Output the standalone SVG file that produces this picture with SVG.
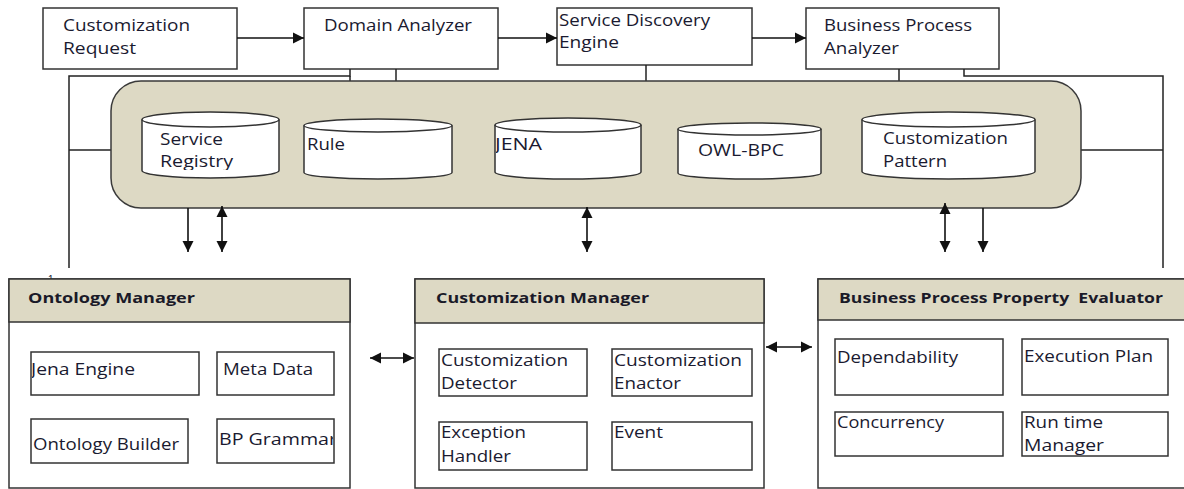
<svg xmlns="http://www.w3.org/2000/svg" width="1184" height="489" viewBox="0 0 1184 489">
<defs>
<style>
.box{fill:#fff;stroke:#333;stroke-width:1.5}
.hdr{fill:#DDD9C4;stroke:#333;stroke-width:1.5}
.cyl{fill:#fff;stroke:#333;stroke-width:1.5}
.t{font-family:"Open Sans","Liberation Sans",sans-serif;font-size:16px;fill:#1a1a30;white-space:pre}
.b{font-family:"Open Sans","Liberation Sans",sans-serif;font-size:14.5px;font-weight:bold;fill:#1a1a28;white-space:pre}
.ln{fill:none;stroke:#222;stroke-width:1.5}
.ar{fill:none;stroke:#111;stroke-width:1.6}
</style>
<marker id="ah" viewBox="0 0 10 10" refX="10" refY="5" markerWidth="11" markerHeight="12" markerUnits="userSpaceOnUse" orient="auto-start-reverse">
<path d="M0,0 L10,5 L0,10 z" fill="#111"/>
</marker>
<clipPath id="cReg"><rect x="140" y="120" width="140" height="50"/></clipPath>
<clipPath id="cJena"><rect x="496" y="125" width="140" height="40"/></clipPath>
<clipPath id="cJE"><rect x="32" y="352" width="160" height="40"/></clipPath>
<clipPath id="cBP"><rect x="218" y="420" width="115" height="40"/></clipPath>
</defs>

<g id="customization-request">
<rect class="box" x="43" y="8" width="194" height="61"/>
<text class="t" x="63" y="31" textLength="127" lengthAdjust="spacingAndGlyphs">Customization</text>
<text class="t" x="63" y="54" textLength="73" lengthAdjust="spacingAndGlyphs">Request</text>
</g>
<g id="domain-analyzer">
<rect class="box" x="304" y="8" width="194" height="61"/>
<text class="t" x="324" y="31" textLength="148" lengthAdjust="spacingAndGlyphs">Domain Analyzer</text>
</g>
<g id="service-discovery-engine">
<rect class="box" x="557" y="8" width="195" height="57"/>
<text class="t" x="559" y="26" textLength="151" lengthAdjust="spacingAndGlyphs">Service Discovery</text>
<text class="t" x="559" y="48" textLength="60" lengthAdjust="spacingAndGlyphs">Engine</text>
</g>
<g id="business-process-analyzer">
<rect class="box" x="806" y="8" width="193" height="61"/>
<text class="t" x="824" y="31" textLength="148" lengthAdjust="spacingAndGlyphs">Business Process</text>
<text class="t" x="824" y="54" textLength="75" lengthAdjust="spacingAndGlyphs">Analyzer</text>
</g>

<g id="connectors-top">
<line class="ar" x1="237" y1="38" x2="304" y2="38" marker-end="url(#ah)"/>
<line class="ar" x1="498" y1="38" x2="557" y2="38" marker-end="url(#ah)"/>
<line class="ar" x1="752" y1="38" x2="806" y2="38" marker-end="url(#ah)"/>
<polyline class="ln" points="350,69 350,76 69,76 69,268"/>
<line class="ln" x1="350" y1="76" x2="350" y2="81"/>
<line class="ln" x1="396" y1="69" x2="396" y2="81"/>
<line class="ln" x1="646" y1="65" x2="646" y2="81"/>
<line class="ln" x1="899" y1="69" x2="899" y2="81"/>
<polyline class="ln" points="964,69 964,76 1163,76 1163,268"/>
<line class="ln" x1="69" y1="150" x2="111" y2="150"/>
<line class="ln" x1="1081" y1="150" x2="1163" y2="150"/>
</g>

<g id="repository">
<rect x="111" y="81" width="970" height="127" rx="30" ry="30" fill="#DDD9C4" stroke="#3a3a3a" stroke-width="1.5"/>
</g>
<g id="service-registry">
<path class="cyl" d="M142,119.5 V170.5 A68.5,7.5 0 0 0 279,170.5 V119.5"/>
<ellipse class="cyl" cx="210.5" cy="119.5" rx="68.5" ry="7.5"/>
<text class="t" x="160" y="145" textLength="63" lengthAdjust="spacingAndGlyphs">Service</text>
<text class="t" x="160" y="167" textLength="73" lengthAdjust="spacingAndGlyphs" clip-path="url(#cReg)">Registry</text>
</g>
<g id="rule">
<path class="cyl" d="M304,125.5 V172.5 A74,6.5 0 0 0 452,172.5 V125.5"/>
<ellipse class="cyl" cx="378" cy="125.5" rx="74" ry="6.5"/>
<text class="t" x="307" y="150" textLength="38" lengthAdjust="spacingAndGlyphs">Rule</text>
</g>
<g id="jena">
<path class="cyl" d="M495,125 V172 A73,7 0 0 0 641,172 V125"/>
<ellipse class="cyl" cx="568" cy="125" rx="73" ry="7"/>
<text class="t" x="495" y="150" textLength="47" lengthAdjust="spacingAndGlyphs" clip-path="url(#cJena)">JENA</text>
</g>
<g id="owl-bpc">
<path class="cyl" d="M678,129 V173 A71.5,6 0 0 0 821,173 V129"/>
<ellipse class="cyl" cx="749.5" cy="129" rx="71.5" ry="6"/>
<text class="t" x="698" y="156" textLength="86" lengthAdjust="spacingAndGlyphs">OWL-BPC</text>
</g>
<g id="customization-pattern">
<path class="cyl" d="M862,119.5 V171.5 A86.5,7.5 0 0 0 1035,171.5 V119.5"/>
<ellipse class="cyl" cx="948.5" cy="119.5" rx="86.5" ry="7.5"/>
<text class="t" x="883" y="144" textLength="125" lengthAdjust="spacingAndGlyphs">Customization</text>
<text class="t" x="883" y="167" textLength="64" lengthAdjust="spacingAndGlyphs">Pattern</text>
</g>

<text x="48" y="283" font-family="Liberation Sans, sans-serif" font-size="10" fill="#1e1e38">1</text>

<g id="ontology-manager">
<rect class="box" x="9" y="279" width="341" height="209"/>
<rect class="hdr" x="9" y="279" width="341" height="43"/>
<text class="b" x="28" y="303" textLength="167" lengthAdjust="spacingAndGlyphs">Ontology Manager</text>
<rect class="box" x="31" y="352" width="168" height="43"/>
<text class="t" x="31" y="375" textLength="104" lengthAdjust="spacingAndGlyphs" clip-path="url(#cJE)">Jena Engine</text>
<rect class="box" x="217" y="352" width="117" height="43"/>
<text class="t" x="223" y="375" textLength="90" lengthAdjust="spacingAndGlyphs">Meta Data</text>
<rect class="box" x="31" y="419" width="157" height="44"/>
<text class="t" x="33" y="450" textLength="146" lengthAdjust="spacingAndGlyphs">Ontology Builder</text>
<rect class="box" x="217" y="419" width="117" height="44"/>
<text class="t" x="219" y="445" textLength="118" lengthAdjust="spacingAndGlyphs" clip-path="url(#cBP)">BP Grammar</text>
</g>

<g id="customization-manager">
<rect class="box" x="415" y="279" width="349" height="209"/>
<rect class="hdr" x="415" y="279" width="349" height="44"/>
<text class="b" x="436" y="303" textLength="213" lengthAdjust="spacingAndGlyphs">Customization Manager</text>
<rect class="box" x="439" y="349" width="148" height="47"/>
<text class="t" x="441" y="366" textLength="127" lengthAdjust="spacingAndGlyphs">Customization</text>
<text class="t" x="441" y="389" textLength="76" lengthAdjust="spacingAndGlyphs">Detector</text>
<rect class="box" x="612" y="349" width="140" height="47"/>
<text class="t" x="614" y="366" textLength="128" lengthAdjust="spacingAndGlyphs">Customization</text>
<text class="t" x="614" y="389" textLength="67" lengthAdjust="spacingAndGlyphs">Enactor</text>
<rect class="box" x="439" y="422" width="148" height="48"/>
<text class="t" x="441" y="438" textLength="85" lengthAdjust="spacingAndGlyphs">Exception</text>
<text class="t" x="441" y="462" textLength="70" lengthAdjust="spacingAndGlyphs">Handler</text>
<rect class="box" x="612" y="422" width="140" height="48"/>
<text class="t" x="614" y="438" textLength="49" lengthAdjust="spacingAndGlyphs">Event</text>
</g>

<g id="bp-property-evaluator">
<rect class="box" x="818" y="279" width="372" height="209"/>
<rect class="hdr" x="818" y="279" width="372" height="41"/>
<text class="b" x="839" y="303" textLength="324" lengthAdjust="spacingAndGlyphs">Business Process Property  Evaluator</text>
<rect class="box" x="835" y="339" width="168" height="56"/>
<text class="t" x="837" y="363" textLength="121" lengthAdjust="spacingAndGlyphs">Dependability</text>
<rect class="box" x="1022" y="339" width="146" height="56"/>
<text class="t" x="1024" y="362" textLength="129" lengthAdjust="spacingAndGlyphs">Execution Plan</text>
<rect class="box" x="835" y="412" width="168" height="44"/>
<text class="t" x="837" y="428" textLength="107" lengthAdjust="spacingAndGlyphs">Concurrency</text>
<rect class="box" x="1022" y="412" width="146" height="44"/>
<text class="t" x="1024" y="428" textLength="79" lengthAdjust="spacingAndGlyphs">Run time</text>
<text class="t" x="1024" y="451" textLength="80" lengthAdjust="spacingAndGlyphs">Manager</text>
</g>

<g id="connectors">
<line class="ar" x1="188" y1="208" x2="188" y2="252" marker-end="url(#ah)"/>
<line class="ar" x1="222" y1="206" x2="222" y2="252" marker-start="url(#ah)" marker-end="url(#ah)"/>
<line class="ar" x1="587" y1="207" x2="587" y2="252" marker-start="url(#ah)" marker-end="url(#ah)"/>
<line class="ar" x1="945" y1="203" x2="945" y2="252" marker-start="url(#ah)" marker-end="url(#ah)"/>
<line class="ar" x1="983" y1="208" x2="983" y2="252" marker-end="url(#ah)"/>
<line class="ar" x1="370" y1="358" x2="414" y2="358" marker-start="url(#ah)" marker-end="url(#ah)"/>
<line class="ar" x1="766" y1="347" x2="812" y2="347" marker-start="url(#ah)" marker-end="url(#ah)"/>
</g>
</svg>
